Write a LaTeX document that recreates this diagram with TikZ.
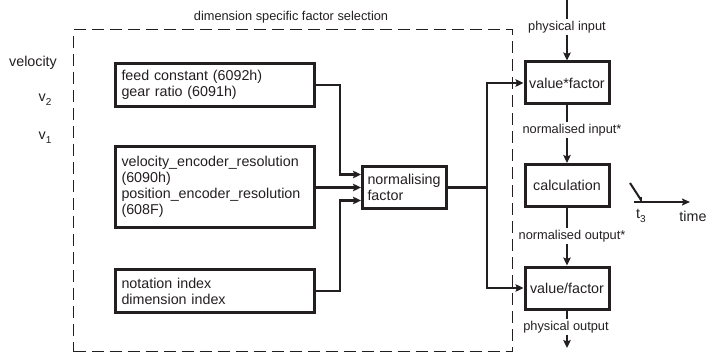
\documentclass[tikz,border=0pt]{standalone}
\usepackage{fontspec}
\setmainfont{Liberation Sans}
\usetikzlibrary{arrows.meta, positioning, calc}
\definecolor{inkdark}{HTML}{231F20}
\newcommand{\boxfont}{\fontsize{14.3}{16}\selectfont}
\newcommand{\lblfont}{\fontsize{12.8}{14}\selectfont}
\tikzset{
  facbox/.style={draw=inkdark, line width=3pt, text=inkdark, align=left,
              text width=#1, inner xsep=6pt, inner ysep=2pt, font=\boxfont},
  opbox/.style={draw=inkdark, line width=3pt, text=inkdark, align=center,
              minimum width=84pt, minimum height=42pt, font=\boxfont},
  selbox/.style={draw=inkdark, line width=1.2pt, dash pattern=on 12pt off 6pt},
  flowline/.style={draw=inkdark, line width=2.6pt},
  flowarr/.style={flowline, -{Stealth[length=8pt, width=7.5pt, inset=1.5pt]}},
  sigtext/.style={text=inkdark, font=\lblfont, inner sep=1.5pt},
  axtext/.style={text=inkdark, font=\boxfont, inner sep=1pt},
}

\begin{document}
\begin{tikzpicture}[x=1pt, y=-1pt]
  \useasboundingbox (0,0) rectangle (716,353);

  % Selection frame
  \node[selbox, minimum width=439pt, minimum height=322pt, anchor=north west] (sel) at (73,29) {};
  \node[sigtext] (seltitle) at (291,17) {dimension specific factor selection};

  % Dimension labels
  \node[axtext] (velo) at (33,63) {velocity};
  \node[axtext] (vtwo) at (45,100) {v\raisebox{-0.55ex}{\fontsize{10}{10}\selectfont 2}};
  \node[axtext] (vone) at (45,138) {v\raisebox{-0.55ex}{\fontsize{10}{10}\selectfont 1}};

  % Factor sources
  \node[facbox=187pt, minimum height=43pt, anchor=north west] (feed) at (114,62)
    {feed constant (6092h)\\gear ratio (6091h)};
  \node[facbox=187pt, minimum height=81pt, anchor=north west] (enc) at (114,145)
    {velocity\_encoder\_resolution\\(6090h)\\position\_encoder\_resolution\\(608F)};
  \node[facbox=187pt, minimum height=43pt, anchor=north west] (idx) at (114,268)
    {notation index\\dimension index};
  \node[facbox=74pt, inner xsep=5pt, minimum height=42pt, anchor=north west] (norm) at (361,165)
    {normalising\\factor};

  % Operations
  \node[opbox] (vmul) at (567,83) {value*factor};
  \node[opbox] (calc) at (567,185.5) {calculation};
  \node[opbox] (vdiv) at (567,288) {value/factor};

  % Signal labels
  \coordinate (pin) at (567,0);
  \coordinate (pout) at (567,348);
  \node[sigtext] (lpin) at (567,27) {physical input};
  \node[sigtext] (lnin) at (572,130) {normalised input*};
  \node[sigtext] (lnout) at (572,236) {normalised output*};
  \node[sigtext] (lpout) at (566,327) {physical output};

  % Arrows
  \draw[flowarr] (feed.east) -- ++(24,0) |- ([yshift=13pt]norm.west);
  \draw[flowarr] (norm.west -| enc.east) -- (norm.west);
  \draw[flowarr] (idx.east) -- ++(24,0) |- ([yshift=-13pt]norm.west);
  \draw[flowarr] (norm.east) -- ++(39,0) |- (vmul.west);
  \draw[flowarr] (norm.east) -- ++(39,0) |- (vdiv.west);

  \draw[flowline] (pin) -- (lpin.north -| pin);
  \draw[flowarr] (lpin.south -| pin) -- (vmul.north);
  \draw[flowline] (vmul.south) -- (lnin.north -| vmul);
  \draw[flowarr] (lnin.south -| vmul) -- (calc.north);
  \draw[flowline] (calc.south) -- (lnout.north -| calc);
  \draw[flowarr] (lnout.south -| calc) -- (vdiv.north);
  \draw[flowline] (vdiv.south) -- (lpout.north -| vdiv);
  \draw[flowarr] (lpout.south -| vdiv) -- (pout);

  % Time axis
  \coordinate (tick) at (630,183);
  \coordinate (tzero) at (641,200);
  \coordinate (tstart) at (634,202);
  \coordinate (tend) at (690,202);
  \draw[flowline, line width=2pt] (tick) -- (tzero);
  \draw[flowline, line width=2pt] ([yshift=3pt]tzero) -- ([yshift=-3pt]tzero);
  \draw[flowline, line width=2pt, -{Stealth[length=8pt, width=7pt, inset=1.5pt]}] (tstart) -- (tend);
  \node[axtext] (tthree) at (641,216) {t\raisebox{-0.55ex}{\fontsize{10}{10}\selectfont 3}};
  \node[axtext] (ttime) at (693,216) {time};
\end{tikzpicture}
\end{document}
